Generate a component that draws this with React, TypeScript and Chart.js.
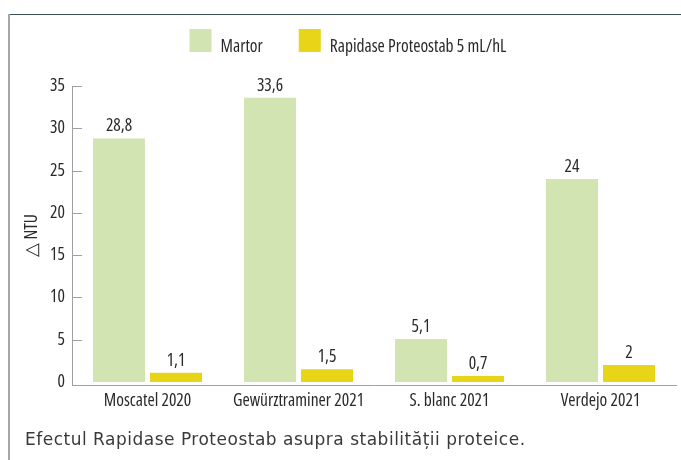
import React, { useEffect, useRef } from "react";
import { Chart, registerables } from "chart.js";

Chart.register(...registerables);

const categories = ["Moscatel 2020", "Gewürztraminer 2021", "S. blanc 2021", "Verdejo 2021"];
const seriesNames = ["Martor", "Rapidase Proteostab 5 mL/hL"];
const martor = [28.8, 33.6, 5.1, 24];
const rapidase = [1.1, 1.5, 0.7, 2];
const yTicks = [0, 5, 10, 15, 20, 25, 30, 35];
const yTitle = "△ NTU";
const caption = "Efectul Rapidase Proteostab asupra stabilității proteice.";

const FAMILY = "'Open Sans', sans-serif";
const STRETCH = "normal condensed";
const FS = 17.5;
const CFONT = `${STRETCH} ${FS}px ${FAMILY}`;
const GREEN = "#d1e4b2";
const YELLOW = "#e8d517";
const TEXT = "#2a2a2a";
const AXIS = "#a0a0a0";

const fmt = (v: number) => String(v).replace(".", ",");

const innerTicks = {
  id: "innerTicks",
  afterDatasetsDraw(chart: any) {
    const { ctx, chartArea } = chart;
    const y = chart.scales.y;
    ctx.save();
    ctx.strokeStyle = AXIS;
    ctx.lineWidth = 1;
    yTicks.forEach((v) => {
      if (v === 0) return;
      const py = Math.round(y.getPixelForValue(v)) + 0.5;
      ctx.beginPath();
      ctx.moveTo(chartArea.left, py);
      ctx.lineTo(chartArea.left + 10, py);
      ctx.stroke();
    });
    ctx.restore();
  },
};

const dataLabels = {
  id: "dataLabels",
  afterDatasetsDraw(chart: any) {
    const { ctx } = chart;
    ctx.save();
    ctx.font = CFONT;
    ctx.fillStyle = TEXT;
    ctx.textAlign = "center";
    ctx.textBaseline = "alphabetic";
    chart.data.datasets.forEach((ds: any, di: number) => {
      const meta = chart.getDatasetMeta(di);
      meta.data.forEach((bar: any, i: number) => {
        ctx.fillText(fmt(ds.data[i]), bar.x, bar.y - 7);
      });
    });
    ctx.restore();
  },
};

const customLegend = {
  id: "customLegend",
  afterDraw(chart: any) {
    const { ctx } = chart;
    ctx.save();
    ctx.font = CFONT;
    const box = 22;
    const boxH = 23;
    const gap = 9;
    const itemGap = 36;
    const items = chart.data.datasets.map((ds: any) => ({
      text: ds.label,
      color: ds.backgroundColor,
      w: box + gap + ctx.measureText(ds.label).width,
    }));
    const total = items.reduce((s: number, it: any) => s + it.w, 0) + itemGap * (items.length - 1);
    let x = 348 - total / 2;
    const top = 29;
    items.forEach((it: any) => {
      ctx.fillStyle = it.color;
      ctx.fillRect(x, top, box, boxH);
      ctx.fillStyle = TEXT;
      ctx.textAlign = "left";
      ctx.textBaseline = "alphabetic";
      ctx.fillText(it.text, x + box + gap, top + boxH);
      x += it.w + itemGap;
    });
    ctx.restore();
  },
};

export default function App() {
  const ref = useRef<HTMLCanvasElement | null>(null);

  useEffect(() => {
    document.body.style.margin = "0";
    if (!ref.current) return;
    const font = { family: FAMILY, size: FS, weight: STRETCH as any };
    const chart = new Chart(ref.current, {
      type: "bar",
      data: {
        labels: categories,
        datasets: [
          { label: seriesNames[0], data: martor, backgroundColor: GREEN },
          { label: seriesNames[1], data: rapidase, backgroundColor: YELLOW },
        ],
      },
      options: {
        animation: false,
        responsive: false,
        maintainAspectRatio: false,
        categoryPercentage: 0.755,
        barPercentage: 0.912,
        layout: { padding: { top: 86, left: 0, right: 5, bottom: 42 } },
        plugins: {
          legend: { display: false },
          tooltip: { enabled: false },
        },
        scales: {
          x: {
            grid: { display: false, drawTicks: false },
            border: { display: true, color: AXIS, width: 1 },
            ticks: { color: TEXT, font, padding: 6, maxRotation: 0, minRotation: 0, autoSkip: false },
          },
          y: {
            min: -0.35,
            max: 35,
            afterBuildTicks: (scale: any) => {
              scale.ticks = yTicks.map((v) => ({ value: v }));
            },
            afterFit: (scale: any) => {
              scale.width = 72;
            },
            grid: { display: false, drawTicks: false },
            border: { display: true, color: AXIS, width: 1 },
            ticks: { color: TEXT, font, padding: 7 },
            title: {
              display: true,
              text: yTitle,
              color: TEXT,
              font,
              padding: { top: 22, bottom: 0 },
            },
          },
        },
      },
      plugins: [innerTicks, dataLabels, customLegend],
    });
    return () => chart.destroy();
  }, []);

  return (
    <div style={{ position: "relative", width: 681, height: 460, background: "#fff" }}>
      <canvas ref={ref} width={681} height={460} style={{ position: "absolute", left: 0, top: 0 }} />
      <div style={{ position: "absolute", left: 9, top: 14, width: 672, height: 1, background: "#3d4e56" }} />
      <div style={{ position: "absolute", left: 8, top: 14, width: 2, height: 446, background: "#a3a7a7" }} />
      <div
        style={{
          position: "absolute",
          left: 25,
          top: 429,
          fontFamily: "'DejaVu Sans', sans-serif",
          fontSize: 17,
          letterSpacing: 0.5,
          lineHeight: "20px",
          color: "#3a3a3a",
          whiteSpace: "nowrap",
        }}
      >
        {caption}
      </div>
    </div>
  );
}
